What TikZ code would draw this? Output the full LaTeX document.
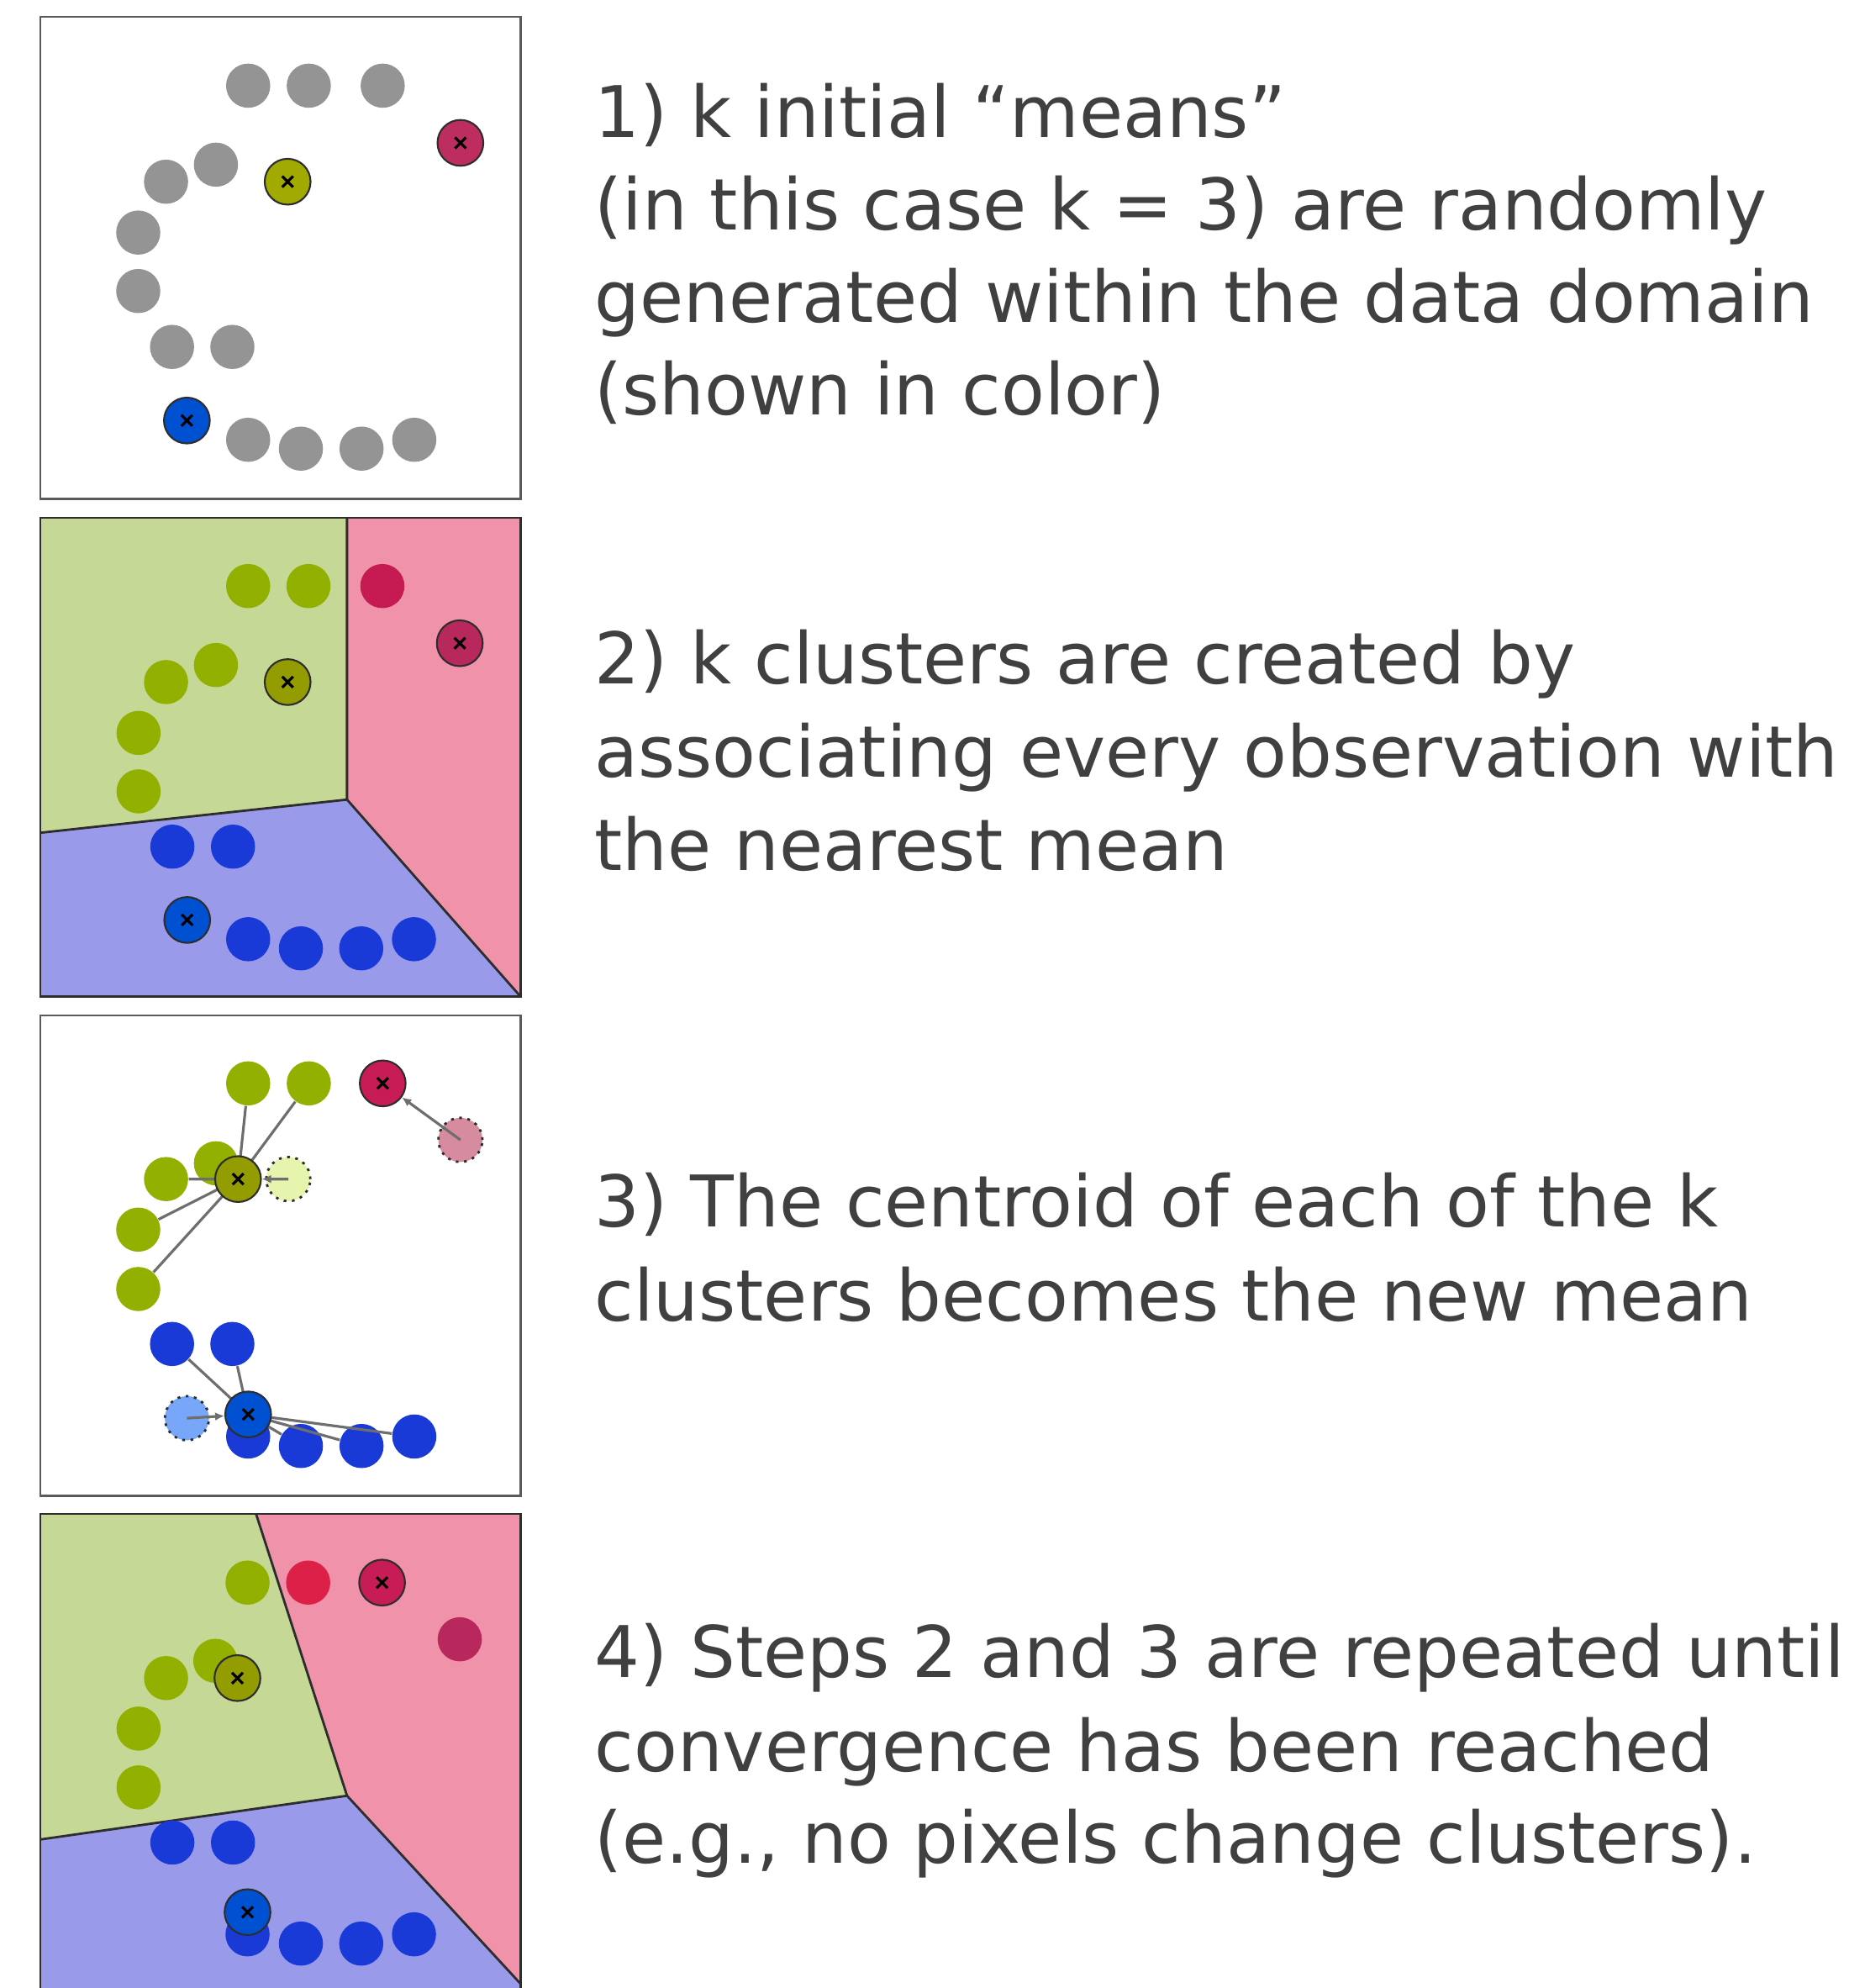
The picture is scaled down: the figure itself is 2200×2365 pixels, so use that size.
\documentclass[tikz,border=0pt]{standalone}
\usepackage{fontspec}
\setmainfont{DejaVu Sans}
\usetikzlibrary{arrows.meta}
\definecolor{cgray}{RGB}{148,148,148}
\definecolor{cgreen}{RGB}{146,176,0}
\definecolor{cred}{RGB}{197,27,82}
\definecolor{cblue}{RGB}{26,58,216}
\definecolor{mred}{RGB}{190,45,95}
\definecolor{mredb}{RGB}{200,28,86}
\definecolor{molive}{RGB}{160,170,0}
\definecolor{mblue}{RGB}{0,80,210}
\definecolor{oolive}{RGB}{230,245,174}
\definecolor{opink}{RGB}{214,140,158}
\definecolor{oblue}{RGB}{120,166,248}
\definecolor{bred}{RGB}{220,32,72}
\definecolor{dred}{RGB}{184,40,92}
\definecolor{rgreen}{RGB}{198,216,150}
\definecolor{rpink}{RGB}{240,146,170}
\definecolor{rblue}{RGB}{154,154,234}
\definecolor{linegray}{RGB}{110,110,110}
\definecolor{framegray}{RGB}{90,90,90}
\definecolor{bordergray}{RGB}{45,45,45}
\definecolor{textgray}{RGB}{64,64,64}
\tikzset{
  pt/.style={circle,inner sep=0pt,minimum size=5.25mm},
  mean/.style={circle,inner sep=0pt,minimum size=5.45mm,draw=bordergray,line width=0.6pt,
    path picture={\draw[line width=0.9pt,black]
      ([shift={(-0.65mm,-0.65mm)}]path picture bounding box.center) -- ([shift={(0.65mm,0.65mm)}]path picture bounding box.center)
      ([shift={(-0.65mm,0.65mm)}]path picture bounding box.center) -- ([shift={(0.65mm,-0.65mm)}]path picture bounding box.center);}},
  oldmean/.style={circle,inner sep=0pt,minimum size=5.25mm,draw=bordergray,line width=0.8pt,dash pattern=on 0.9pt off 1.9pt},
  link/.style={draw=linegray,line width=0.9pt},
  move/.style={draw=linegray,line width=0.9pt,-{Latex[length=1.1mm,width=1mm]}},
  frame/.style={draw=framegray,line width=0.8pt},
  border/.style={draw=bordergray,line width=0.8pt},
  txt/.style={anchor=base west,inner sep=0pt,text=textgray,font=\fontsize{24.1pt}{30pt}\selectfont}
}
\begin{document}
\begin{tikzpicture}[x=0.01cm,y=-0.01cm]
\useasboundingbox (0,0) rectangle (2200,2365);
\fill[white] (0,0) rectangle (2200,2365);
\clip (0,0) rectangle (2200,2365);

% ---------- Panel 1 ----------
\begin{scope}[shift={(48,20)},scale=0.3758]
\node[pt,fill=cgray] (a1) at (658,218) {};
\node[pt,fill=cgray] (a2) at (850,218) {};
\node[pt,fill=cgray] (a3) at (1084,218) {};
\node[pt,fill=cgray] (a4) at (556,468) {};
\node[pt,fill=cgray] (a5) at (398,522) {};
\node[pt,fill=cgray] (a6) at (310,683) {};
\node[pt,fill=cgray] (a7) at (310,868) {};
\node[pt,fill=cgray] (a8) at (417,1045) {};
\node[pt,fill=cgray] (a9) at (608,1045) {};
\node[pt,fill=cgray] (a10) at (658,1339) {};
\node[pt,fill=cgray] (a11) at (825,1367) {};
\node[pt,fill=cgray] (a12) at (1017,1367) {};
\node[pt,fill=cgray] (a13) at (1184,1339) {};
\node[mean,fill=mred] (am1) at (1330,399) {};
\node[mean,fill=molive] (am2) at (783,522) {};
\node[mean,fill=mblue] (am3) at (464,1278) {};
\draw[frame] (0,0) rectangle (1520,1525);
\end{scope}

% ---------- Panel 2 ----------
\begin{scope}[shift={(48,616)},scale=0.3758]
\fill[rgreen] (0,0) -- (971,0) -- (971,892) -- (0,997) -- cycle;
\fill[rpink] (971,0) -- (1520,0) -- (1520,1515) -- (971,892) -- cycle;
\fill[rblue] (0,997) -- (971,892) -- (1520,1515) -- (0,1515) -- cycle;
\draw[border] (971,0) -- (971,892) -- (0,997) (971,892) -- (1520,1515);
\node[pt,fill=cgreen] (b1) at (658,216) {};
\node[pt,fill=cgreen] (b2) at (849,216) {};
\node[pt,fill=cred] (b3) at (1083,216) {};
\node[pt,fill=cgreen] (b4) at (556,466) {};
\node[pt,fill=cgreen] (b5) at (398,520) {};
\node[pt,fill=cgreen] (b6) at (311,681) {};
\node[pt,fill=cgreen] (b7) at (311,866) {};
\node[pt,fill=cblue] (b8) at (418,1041) {};
\node[pt,fill=cblue] (b9) at (610,1041) {};
\node[pt,fill=cblue] (b10) at (658,1334) {};
\node[pt,fill=cblue] (b11) at (825,1363) {};
\node[pt,fill=cblue] (b12) at (1016,1363) {};
\node[pt,fill=cblue] (b13) at (1183,1334) {};
\node[mean,fill=dred] (bm1) at (1328,397) {};
\node[mean,fill=molive!92!black] (bm2) at (783,520) {};
\node[mean,fill=mblue] (bm3) at (465,1273) {};
\draw[frame,draw=bordergray] (0,0) rectangle (1520,1515);
\end{scope}

% ---------- Panel 3 ----------
\begin{scope}[shift={(48,1208)},scale=0.3758]
\node[pt,fill=cgreen] (c1) at (658,215) {};
\node[pt,fill=cgreen] (c2) at (850,215) {};
\node[pt,fill=cgreen] (c4) at (556,468) {};
\node[pt,fill=cgreen] (c5) at (398,518) {};
\node[pt,fill=cgreen] (c6) at (310,678) {};
\node[pt,fill=cgreen] (c7) at (310,866) {};
\node[pt,fill=cblue] (c8) at (417,1040) {};
\node[pt,fill=cblue] (c9) at (608,1040) {};
\node[pt,fill=cblue] (c10) at (658,1333) {};
\node[pt,fill=cblue] (c11) at (825,1363) {};
\node[pt,fill=cblue] (c12) at (1017,1363) {};
\node[pt,fill=cblue] (c13) at (1184,1333) {};
\node[oldmean,fill=opink] (co1) at (1330,394) {};
\node[oldmean,fill=oolive] (co2) at (785,518) {};
\node[oldmean,fill=oblue] (co3) at (464,1275) {};
\coordinate (cm2c) at (626,518);
\coordinate (cm3c) at (658,1263);
\draw[link] (cm2c) -- (c1) (cm2c) -- (c2) (cm2c) -- (c5) (cm2c) -- (c6) (cm2c) -- (c7);
\draw[link] (cm3c) -- (c8) (cm3c) -- (c9) (cm3c) -- (c11) (cm3c) -- (c12) (cm3c) -- (c13);
\node[mean,fill=mredb] (cm1) at (1084,215) {};
\node[mean,fill=molive!92!black] (cm2) at (cm2c) {};
\node[mean,fill=mblue] (cm3) at (cm3c) {};
\draw[move] (co1.center) -- (cm1);
\draw[move] (co2.center) -- (cm2);
\draw[move] (co3.center) -- (cm3);
\draw[frame] (0,0) rectangle (1520,1520);
\end{scope}

% ---------- Panel 4 ----------
\begin{scope}[shift={(48,1801)},scale=0.3758,yscale=0.975]
\fill[rgreen] (0,0) -- (683,0) -- (971,915) -- (0,1057) -- cycle;
\fill[rpink] (683,0) -- (1520,0) -- (1520,1525) -- (971,915) -- cycle;
\fill[rblue] (0,1057) -- (971,915) -- (1520,1525) -- (1520,1650) -- (0,1650) -- cycle;
\draw[border] (683,0) -- (971,915) -- (0,1057) (971,915) -- (1520,1525);
\node[pt,fill=cgreen] (d1) at (656,223) {};
\node[pt,fill=bred] (d2) at (848,223) {};
\node[pt,fill=dred] (d3) at (1328,407) {};
\node[pt,fill=cgreen] (d4) at (554,477) {};
\node[pt,fill=cgreen] (d5) at (398,533) {};
\node[pt,fill=cgreen] (d6) at (311,697) {};
\node[pt,fill=cgreen] (d7) at (311,888) {};
\node[pt,fill=cblue] (d8) at (418,1067) {};
\node[pt,fill=cblue] (d9) at (610,1067) {};
\node[pt,fill=cblue] (d10) at (656,1365) {};
\node[pt,fill=cblue] (d11) at (825,1395) {};
\node[pt,fill=cblue] (d12) at (1016,1395) {};
\node[pt,fill=cblue] (d13) at (1183,1365) {};
\node[mean,fill=mredb] (dm1) at (1082,223) {};
\node[mean,fill=molive!92!black] (dm2) at (624,533) {};
\node[mean,fill=mblue] (dm3) at (656,1293) {};
\draw[frame,draw=bordergray] (0,0) rectangle (1520,1650);
\end{scope}

% ---------- Text ----------
\node[txt] (t1a) at (707,163) {1) k initial “means”};
\node[txt] (t1b) at (707,273) {(in this case k = 3) are randomly};
\node[txt] (t1c) at (707,383) {generated within the data domain};
\node[txt] (t1d) at (707,493) {(shown in color)};
\node[txt] (t2a) at (707,813) {2) k clusters are created by};
\node[txt] (t2b) at (707,924) {associating every observation with};
\node[txt] (t2c) at (707,1035) {the nearest mean};
\node[txt] (t3a) at (707,1459) {3) The centroid of each of the k};
\node[txt] (t3b) at (707,1571) {clusters becomes the new mean};
\node[txt] (t4a) at (707,1995) {4) Steps 2 and 3 are repeated until};
\node[txt] (t4b) at (707,2107) {convergence has been reached};
\node[txt] (t4c) at (707,2216) {(e.g., no pixels change clusters).};
\end{tikzpicture}
\end{document}
